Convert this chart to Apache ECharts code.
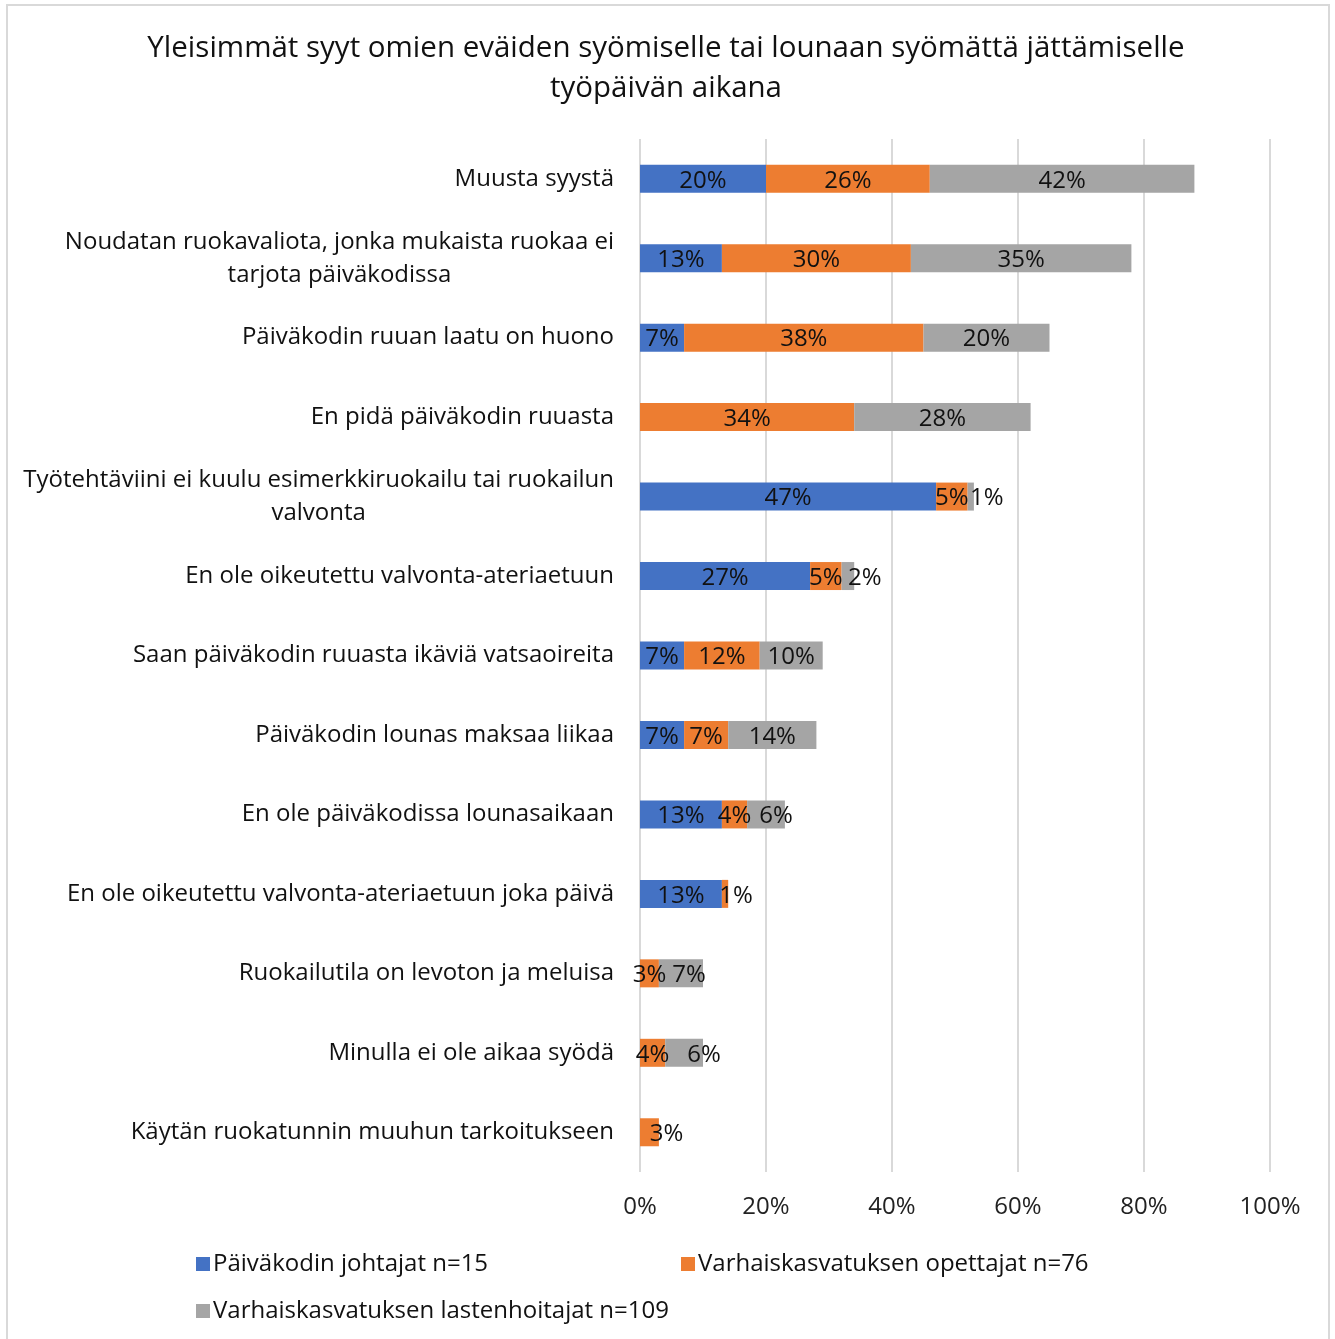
<!DOCTYPE html>
<html><head><meta charset="utf-8">
<script src="https://cdn.jsdelivr.net/npm/echarts@6/dist/echarts.min.js"></script>
<style>html,body{margin:0;padding:0;background:#fff}#c{width:1335px;height:1339px}</style>
</head><body><div id="c"></div>
<script>
const categories = [
  "Muusta syystä",
  "Noudatan ruokavaliota, jonka mukaista ruokaa ei\ntarjota päiväkodissa",
  "Päiväkodin ruuan laatu on huono",
  "En pidä päiväkodin ruuasta",
  "Työtehtäviini ei kuulu esimerkkiruokailu tai ruokailun\nvalvonta",
  "En ole oikeutettu valvonta-ateriaetuun",
  "Saan päiväkodin ruuasta ikäviä vatsaoireita",
  "Päiväkodin lounas maksaa liikaa",
  "En ole päiväkodissa lounasaikaan",
  "En ole oikeutettu valvonta-ateriaetuun joka päivä",
  "Ruokailutila on levoton ja meluisa",
  "Minulla ei ole aikaa syödä",
  "Käytän ruokatunnin muuhun tarkoitukseen"
];
const seriesNames = ["Päiväkodin johtajat n=15", "Varhaiskasvatuksen opettajat n=76", "Varhaiskasvatuksen lastenhoitajat n=109"];
const johtajat      = [20, 13, 7, 0, 47, 27, 7, 7, 13, 13, 0, 0, 0];
const opettajat     = [26, 30, 38, 34, 5, 5, 12, 7, 4, 1, 3, 4, 3];
const lastenhoitajat= [42, 35, 20, 28, 1, 2, 10, 14, 6, 0, 7, 6, 0];
const xTicks = [0, 20, 40, 60, 80, 100];
const colors = ["#4472C4", "#ED7D31", "#A5A5A5"];
const FONT = "Open Sans";

// label nudges (px) for crowded small segments, as in the original layout
const labelNudge = {"2-4": 16, "2-5": 17, "2-8": 10, "1-9": 11, "2-11": 20, "1-12": 17, "2-10": 8};

const chart = echarts.init(document.getElementById('c'), null, {renderer: 'canvas'});
const allData = [johtajat, opettajat, lastenhoitajat];
const series = allData.map((arr, i) => ({
  name: seriesNames[i],
  type: 'bar',
  stack: 'total',
  barWidth: 28,
  itemStyle: {color: colors[i]},
  label: {
    show: true, position: 'inside', color: '#111', fontFamily: FONT, fontSize: 24, offset: [0, 2],
    formatter: p => p.value > 0 ? p.value + '%' : ''
  },
  data: arr.map((v, j) => {
    const n = labelNudge[i + '-' + j];
    return n ? {value: v, label: {offset: [n, 2]}} : v;
  })
}));

chart.setOption({
  animation: false,
  textStyle: {fontFamily: FONT},
  title: {
    text: "Yleisimmät syyt omien eväiden syömiselle tai lounaan syömättä jättämiselle\ntyöpäivän aikana",
    left: 661, top: 24, textAlign: 'center',
    textStyle: {fontFamily: FONT, fontSize: 29.5, fontWeight: 'normal', color: '#111', lineHeight: 40}
  },
  grid: {left: 640, right: 65, top: 139, bottom: 167, containLabel: false},
  xAxis: {
    type: 'value', min: 0, max: 100, interval: 20,
    axisLine: {show: false}, axisTick: {show: false},
    splitLine: {lineStyle: {color: '#d9d9d9', width: 2}},
    axisLabel: {formatter: v => xTicks.includes(v) ? v + '%' : '', fontFamily: FONT, fontSize: 24, color: '#222', margin: 23}
  },
  yAxis: {
    type: 'category', inverse: true, data: categories,
    axisLine: {show: false}, axisTick: {show: false},
    axisLabel: {
      align: 'right', margin: 26, color: '#111', fontFamily: FONT, fontSize: 24, lineHeight: 33,
      formatter: v => v.split('\n').map(l => '{c|' + l + '}').join('\n'),
      rich: {c: {align: 'center', fontFamily: FONT, fontSize: 24, lineHeight: 33, color: '#111'}}
    }
  },
  legend: [
    {data: [seriesNames[0]], left: 191, top: 1247},
    {data: [seriesNames[1]], left: 676, top: 1247},
    {data: [seriesNames[2]], left: 191, top: 1294}
  ].map(l => Object.assign(l, {
    icon: 'rect', itemWidth: 14, itemHeight: 14, itemGap: 7,
    textStyle: {fontFamily: FONT, fontSize: 24, color: '#111', padding: [0, 0, 0, -2]}
  })),
  graphic: [{
    type: 'rect', shape: {x: 7, y: 5, width: 1322, height: 1345},
    style: {fill: 'none', stroke: '#d9d9d9', lineWidth: 2}, silent: true
  }],
  series: series
});
</script></body></html>
